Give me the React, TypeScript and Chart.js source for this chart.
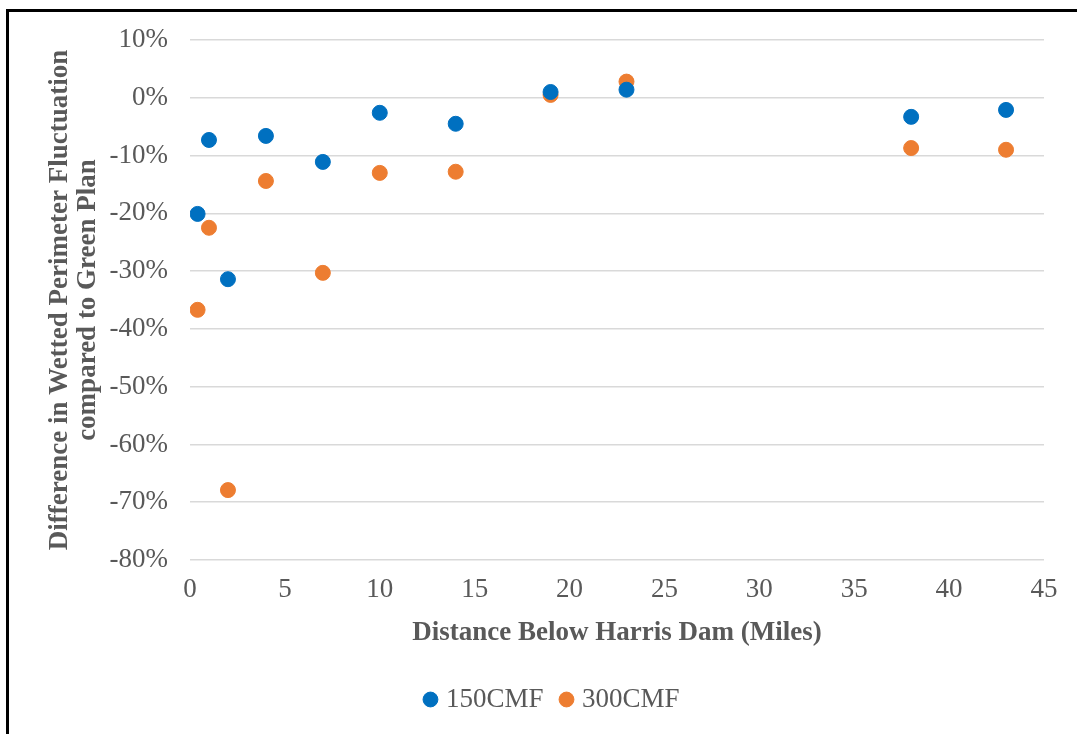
import React, { useEffect, useRef } from "react";
import { Chart, registerables } from "chart.js";

Chart.register(...registerables);

const distances150 = [0.4, 1, 2, 4, 7, 10, 14, 19, 23, 38, 43];
const values150 = [-20.1, -7.3, -31.4, -6.6, -11.1, -2.6, -4.5, 1.0, 1.4, -3.3, -2.1];
const distances300 = [0.4, 1, 2, 4, 7, 10, 14, 19, 23, 38, 43];
const values300 = [-36.7, -22.5, -67.9, -14.4, -30.3, -13.0, -12.8, 0.5, 2.8, -8.7, -9.0];
const seriesNames = ["150CMF", "300CMF"];
const xTitle = "Distance Below Harris Dam (Miles)";
const yTitle = ["Difference in Wetted Perimeter Fluctuation", "compared to Green Plan"];

const FONT = "'Liberation Serif', 'Times New Roman', serif";

const legendShift = {
  id: "legendShift",
  afterLayout(chart: any) {
    if (chart.legend) {
      chart.legend.left += 12;
      chart.legend.right += 12;
    }
  },
};

export default function App() {
  const ref = useRef<HTMLCanvasElement | null>(null);
  useEffect(() => {
    if (!ref.current) return;
    const chart = new Chart(ref.current, {
      type: "scatter",
      data: {
        datasets: [
          {
            label: seriesNames[0],
            data: distances150.map((x, i) => ({ x, y: values150[i] })),
            backgroundColor: "#0070C0",
            borderColor: "#0070C0",
            pointRadius: 7.5,
            pointHoverRadius: 7.5,
          },
          {
            label: seriesNames[1],
            data: distances300.map((x, i) => ({ x, y: values300[i] })),
            backgroundColor: "#ED7D31",
            borderColor: "#ED7D31",
            pointRadius: 7.5,
            pointHoverRadius: 7.5,
          },
        ],
      },
      plugins: [legendShift],
      options: {
        animation: false,
        responsive: false,
        layout: { padding: { left: 40, right: 33, top: 40, bottom: 11 } },
        plugins: {
          tooltip: { enabled: false },
          legend: {
            position: "bottom",
            labels: {
              usePointStyle: true,
              pointStyle: "circle",
              boxWidth: 4,
              boxHeight: 10.5,
              padding: 21,
              color: "#595959",
              font: { family: FONT, size: 27 },
            },
          },
        },
        scales: {
          x: {
            type: "linear",
            min: 0,
            max: 45,
            afterFit: (s: any) => {
              s.height = 105;
            },
            ticks: {
              stepSize: 5,
              padding: 14,
              color: "#595959",
              font: { family: FONT, size: 27 },
            },
            grid: { display: false, drawTicks: false },
            border: { display: false },
            title: {
              display: true,
              text: xTitle,
              color: "#595959",
              font: { family: FONT, size: 27, weight: "bold" },
              padding: { top: 0, bottom: 16 },
            },
          },
          y: {
            type: "linear",
            min: -80,
            max: 10,
            afterFit: (s: any) => {
              s.width = 150;
            },
            ticks: {
              stepSize: 10,
              padding: 22,
              color: "#595959",
              font: { family: FONT, size: 27 },
              callback: (v: any) => `${v}%`,
            },
            grid: { color: "#d9d9d9", lineWidth: 1.5, drawTicks: false },
            border: { display: false },
            title: {
              display: true,
              text: yTitle,
              color: "#595959",
              font: { family: FONT, size: 27, weight: "bold", lineHeight: 1.05 },
              padding: { top: 6, bottom: 0 },
            },
          },
        },
      },
    });
    return () => chart.destroy();
  }, []);
  return (
    <div
      style={{
        position: "fixed",
        left: 0,
        top: 0,
        width: 1077,
        height: 734,
        overflow: "hidden",
        background: "#fff",
      }}
    >
      <div
        style={{
          position: "absolute",
          left: 6,
          top: 9,
          width: 1200,
          height: 900,
          border: "3px solid #000",
        }}
      />
      <canvas
        ref={ref}
        width={1077}
        height={734}
        style={{ position: "absolute", left: 0, top: 0, width: 1077, height: 734 }}
      />
    </div>
  );
}
